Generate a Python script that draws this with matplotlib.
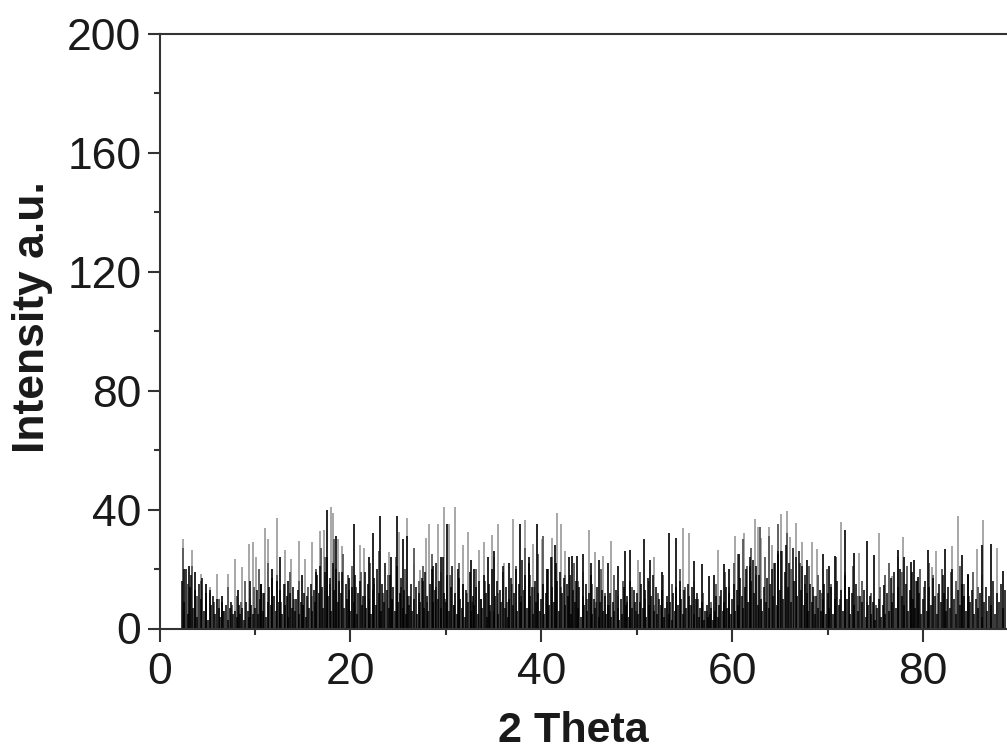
import matplotlib
matplotlib.use("Agg")
import matplotlib.pyplot as plt

plt.rcParams['font.family'] = ['Liberation Sans', 'DejaVu Sans']

# tall thin grey peaks
gray_x = [2.44,3.42,4.36,5.27,6.04,7.19,7.89,8.66,9.39,9.81,10.16,11.1,11.38,12.32,13.12,13.79,14.59,15.29,15.99,
          16.79,17.28,17.98,18.18,18.67,19.16,20.98,21.47,24.0,25.06,25.93,26.63,27.26,27.96,28.27,29.18,29.77,
          30.3,30.92,31.76,32.29,33.44,33.96,34.83,35.43,36.05,37.03,38.33,39.13,40.07,41.1,41.6,42.06,42.5,
          44.96,45.66,46.5,47.3,50.1,51.8,54.8,55.5,58.5,60.3,61.2,62.4,62.7,63.0,63.9,64.2,65.1,65.8,66.1,66.7,
          67.3,68.4,68.9,71.4,73.3,75.4,76.7,77.9,80.9,81.4,83.0,83.7,85.7,86.3,87.8]
gray_y = [30.2,26.3,18.4,13.9,18.4,18.4,23.5,20.7,28.5,29.1,24,33.9,30.2,37.3,26.3,23.5,29.6,23.5,29,
          32.8,33,41,39,30,27.6,28,27,25.7,32.5,37.3,21.8,19.6,30.5,35,35,40.8,
          35,41,28,32.5,26.3,29,31.5,35,22,36.7,36.5,28.5,30,30.5,39,35,26,
          33,25.7,24.5,29.6,23,24,33.8,32,26.5,31,32,37,34,30.4,34,28,38.6,39.5,30.8,35.6,
          29,29,26.8,35.8,25.4,32,17.8,30.8,20.6,26,27.7,38,26.8,36.4,27.2]

# dark peaks
black_x = [2.6,3.1,3.7,4.9,6.6,8.2,9.5,10.6,11.8,12.6,13.5,14.9,16.4,17.5,18.5,19.9,20.42,21.9,22.34,23.07,24.3,
           24.85,25.5,25.93,27.6,28.7,29.5,30.1,31.3,32.6,33.0,34.4,35.1,36.6,37.8,38.7,39.55,40.6,41.4,42.9,43.2,
           43.7,44.4,45.2,46.0,47.0,48.0,48.8,49.3,50.8,51.4,52.6,53.4,54.1,56.0,56.8,57.6,58.1,59.1,59.7,60.7,
           61.9,64.8,67.8,69.5,70.1,70.8,71.8,72.8,74.1,74.9,75.9,77.35,78.0,78.7,79.1,79.5,80.5,82.3,84.05,84.75,
           86.15,87.1,88.4]
black_y = [20,21,19,15,11,13,16,15,20,24,16,18,19,40,31,17,35,24,32,38,24,
           38,30,31,16,21,24,35,20,23,20,24,26,22,35,24,35,20,28,24,24.5,
           24.5,25,22,23,22,21,26,26.5,30,23,19,32,30.5,22.7,21.8,17.8,18,21.8,20,25,
           21,26,23,25,21,24.4,33.2,25.4,29.6,24.6,14.5,26.5,24,22.3,23,17.3,26.3,26.8,24.6,18.4,
           28,28.3,19.5]

# dense body of the pattern, one block of sticks per stretch of the axis
body_02_10 = [16,9,20,5,14,18,7,13,4,15,10,17,6,12,3,13,8,11,5,10,7,4,9,6,8,3,7,9,5,6,4,8,5,7,3,9,6,4,8,5]
body_10_20 = [7,13,5,10,15,6,12,4,9,14,8,17,11,6,16,9,13,5,15,8,11,4,12,7,14,6,10,13,5,9,8,12,4,11,7,15,6,13,9,18,
              12,21,14,7,19,24,11,17,6,22,13,20,9,16,12,19,7,15,10,13]
body_20_30 = [6,14,9,18,5,12,16,8,11,19,7,15,10,5,13,17,8,20,12,6,15,9,22,13,7,18,10,14,6,21,9,12,17,7,13,5,11,8,15,6,
              10,14,5,12,9,17,7,19,11,6,15,20,9,13,22,10,16,7,24,12]
body_30_40 = [9,18,6,14,21,8,12,5,17,10,7,15,4,13,9,19,6,11,8,14,5,16,10,7,18,12,4,15,8,20,6,11,16,5,13,9,21,7,14,4,
              10,17,8,12,20,6,15,9,23,13,18,7,22,11,14,5,16,9,12,6]
body_40_50 = [10,15,5,12,20,8,24,14,9,22,16,6,19,12,17,8,15,11,18,5,13,9,16,7,14,4,11,8,15,6,12,18,5,10,7,14,4,9,13,6,
              11,5,8,12,4,9,6,13,7,3,10,5,14,8,11,4,16,7,13,9]
body_50_60 = [12,5,9,15,7,13,4,17,8,11,18,6,14,5,10,8,13,4,7,11,5,9,3,12,6,14,8,16,10,5,13,7,15,11,8,14,5,10,12,4,
              7,9,3,6,8,4,5,7,3,6,11,4,8,13,6,9,14,7,12,5]
body_60_70 = [10,15,6,13,8,17,11,7,14,20,9,24,16,23,12,21,8,18,10,6,14,9,17,7,15,20,11,22,8,25,13,26,10,19,28,14,22,9,27,16,
              24,11,26,13,21,8,18,12,6,15,9,14,5,11,7,13,6,10,15,5]
body_70_80 = [12,7,14,5,10,16,8,13,6,18,10,14,5,12,8,15,6,11,9,13,4,8,11,5,9,3,7,10,4,8,5,12,6,17,9,19,7,14,20,11,
              8,15,6,13,19,10,7,16,12,5]
body_80_89 = [10,16,6,14,8,17,11,5,15,9,18,12,6,14,7,20,10,5,13,8,15,11,6,18,9,13,5,10,7,12,4,9,14,6,11,8,16,5,12,9,15,7,13]
body_blocks = [(2.4, 10.0, body_02_10), (10.0, 20.0, body_10_20), (20.0, 30.0, body_20_30),
               (30.0, 40.0, body_30_40), (40.0, 50.0, body_40_50), (50.0, 60.0, body_50_60),
               (60.0, 70.0, body_60_70), (70.0, 80.0, body_70_80), (80.0, 88.8, body_80_89)]

body_x, body_y = [], []
for lo, hi, vals in body_blocks:
    for i, v in enumerate(vals):
        body_x.append(lo + (hi - lo) * i / len(vals))
        body_y.append(v)

# second row of mid-height sticks, offset from the first
mid_start = 2.5
mid_step = 0.465
mid_y = [27,15,21,11,16,8,12,9,10,6,14,8,11,9,16,10,14,20,12,22,11,18,9,15,19,10,16,8,14,11,20,27,24,15,30,19,25,18,21,14,
         19,11,22,15,26,12,18,10,24,14,20,11,27,16,21,9,25,14,19,10,18,8,22,15,12,9,20,10,16,6,24,12,19,9,15,21,11,27,18,14,
         25,31,20,24,16,14,18,11,22,16,19,10,15,9,20,12,8,18,11,16,9,14,6,19,10,16,8,12,18,9,15,11,20,14,8,16,10,12,6,9,
         15,11,19,14,22,25,30,21,27,18,34,24,31,22,35,26,32,20,16,22,15,21,11,18,12,20,15,24,10,19,14,21,11,16,9,12,8,14,
         18,22,12,24,19,21,11,16,20,14,22,18,12,20,10,19,16,21,15,11,19,14,18]
mid_x = [mid_start + i * mid_step for i in range(len(mid_y))]

x_major = [0, 20, 40, 60, 80]
x_minor = [10, 30, 50, 70]
y_major = [0, 40, 80, 120, 160, 200]
y_minor = [20, 60, 100, 140, 180]

W, H = 1007, 753
fig = plt.figure(figsize=(W / 100, H / 100), dpi=100, facecolor='white')
ax = fig.add_axes([159.5 / W, 1 - 628.5 / H, (W - 159.5) / W, (628.5 - 34) / H])

ax.vlines(gray_x, 0, gray_y, color='#a0a0a0', lw=1.3)
ax.vlines(mid_x, 0, mid_y, color='#555555', lw=1.3)
ax.vlines(black_x, 0, black_y, color='#141414', lw=1.3)
ax.vlines(body_x, 0, body_y, color='black', lw=1.1)

ax.set_xlim(0, 88.8)
ax.set_ylim(0, 200)
ax.spines['right'].set_visible(False)
for s in ('left', 'top', 'bottom'):
    ax.spines[s].set_linewidth(1.5)
    ax.spines[s].set_color('#333333')

ax.set_xticks(x_major)
ax.set_xticks(x_minor, minor=True)
ax.set_yticks(y_major)
ax.set_yticks(y_minor, minor=True)
ax.tick_params(axis='both', which='major', length=9, width=1.5, color='#333333',
               labelsize=32, labelcolor='#1a1a1a')
ax.tick_params(axis='both', which='minor', length=4.5, width=1.5, color='#333333')
ax.tick_params(axis='x', which='major', pad=8)
ax.tick_params(axis='y', which='major', pad=4)
for lab in ax.get_yticklabels():
    lab.set_va('center_baseline')

fig.text(33 / W, 1 - 317 / H, 'Intensity a.u.', rotation=90, ha='center', va='center',
         fontsize=32, fontweight='bold', color='#1a1a1a')
fig.text(573 / W, 1 - 731 / H, '2 Theta', ha='center', va='center',
         fontsize=31, fontweight='bold', color='#1a1a1a')

fig.savefig('out.png', dpi=100, facecolor='white')
